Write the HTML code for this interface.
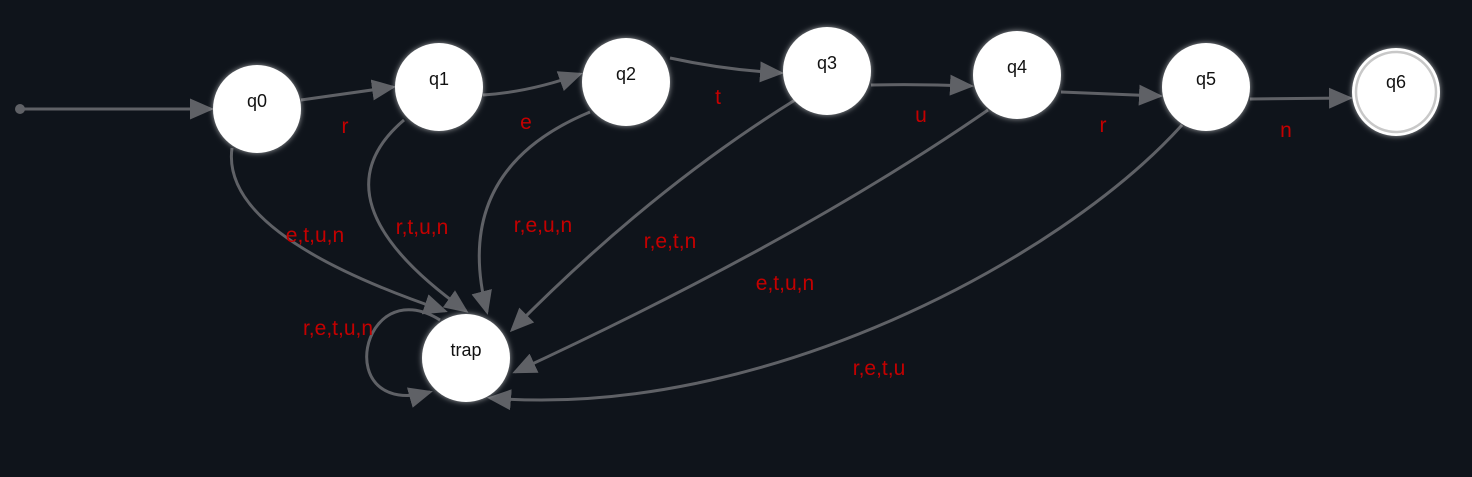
<!DOCTYPE html>
<html><head><meta charset="utf-8"><style>
html,body{margin:0;padding:0;background:#0f141b;}
svg{display:block;font-family:"Liberation Sans",sans-serif;}
.e{fill:none;stroke:#5f6166;stroke-width:3;}
.l{fill:#c40000;font-size:21px;text-anchor:middle;}
.n{fill:#fff;}
.t{fill:#111;font-size:18px;text-anchor:middle;}
</style></head><body>
<svg width="1472" height="477" viewBox="0 0 1472 477">
<defs>
<marker id="a" markerWidth="8" markerHeight="7" refX="7" refY="3.5" orient="auto" markerUnits="strokeWidth">
<path d="M0,0 L8,3.5 L0,7 Z" fill="#5f6166"/></marker>
<filter id="g" x="-30%" y="-30%" width="160%" height="160%"><feGaussianBlur stdDeviation="3" in="SourceAlpha" result="b"/><feFlood flood-color="#fff" flood-opacity="0.6"/><feComposite in2="b" operator="in"/><feMerge><feMergeNode/><feMergeNode in="SourceGraphic"/></feMerge></filter>
</defs>
<g>
<circle cx="20" cy="109" r="5" fill="#5f6166"/>
<path class="e" d="M20,109 L211,109" marker-end="url(#a)"/>
<path class="e" d="M301,100 L393,87" marker-end="url(#a)"/>
<path class="e" d="M483,95 Q530,92 580,74" marker-end="url(#a)"/>
<path class="e" d="M670,58 Q725,70 781,73" marker-end="url(#a)"/>
<path class="e" d="M871,85 Q920,84 971,86" marker-end="url(#a)"/>
<path class="e" d="M1061,92 Q1110,94 1160,96" marker-end="url(#a)"/>
<path class="e" d="M1250,99 L1350,98" marker-end="url(#a)"/>
<path class="e" d="M232,148 Q220,235 445,311" marker-end="url(#a)"/>
<path class="e" d="M404,120 Q310,200 466,311" marker-end="url(#a)"/>
<path class="e" d="M590,112 Q450,170 487,312" marker-end="url(#a)"/>
<path class="e" d="M795,100 Q650,190 512,330" marker-end="url(#a)"/>
<path class="e" d="M988,110 Q800,240 515,372" marker-end="url(#a)"/>
<path class="e" d="M1182,125 C1060,260 760,420 490,398" marker-end="url(#a)"/>
<path class="e" d="M440,320 C360,270 330,420 430,392" marker-end="url(#a)"/>
</g>
<g>
<text class="l" x="345" y="133">r</text>
<text class="l" x="526" y="129">e</text>
<text class="l" x="718" y="104">t</text>
<text class="l" x="921" y="122">u</text>
<text class="l" x="1103" y="132">r</text>
<text class="l" x="1286" y="137">n</text>
<text class="l" x="315" y="242">e,t,u,n</text>
<text class="l" x="422" y="234">r,t,u,n</text>
<text class="l" x="543" y="232">r,e,u,n</text>
<text class="l" x="670" y="248">r,e,t,n</text>
<text class="l" x="785" y="290">e,t,u,n</text>
<text class="l" x="879" y="375">r,e,t,u</text>
<text class="l" x="338" y="335">r,e,t,u,n</text>
</g>
<g filter="url(#g)">
<circle class="n" cx="257" cy="109" r="44"/>
<circle class="n" cx="439" cy="87" r="44"/>
<circle class="n" cx="626" cy="82" r="44"/>
<circle class="n" cx="827" cy="71" r="44"/>
<circle class="n" cx="1017" cy="75" r="44"/>
<circle class="n" cx="1206" cy="87" r="44"/>
<circle class="n" cx="1396" cy="92" r="44"/>
<circle class="n" cx="466" cy="358" r="44"/>
</g>
<circle cx="1396" cy="92" r="40" fill="none" stroke="#c8c8c8" stroke-width="2.5"/>
<g>
<text class="t" x="257" y="107">q0</text>
<text class="t" x="439" y="85">q1</text>
<text class="t" x="626" y="80">q2</text>
<text class="t" x="827" y="69">q3</text>
<text class="t" x="1017" y="73">q4</text>
<text class="t" x="1206" y="85">q5</text>
<text class="t" x="1396" y="88">q6</text>
<text class="t" x="466" y="356">trap</text>
</g>
</svg>
</body></html>
